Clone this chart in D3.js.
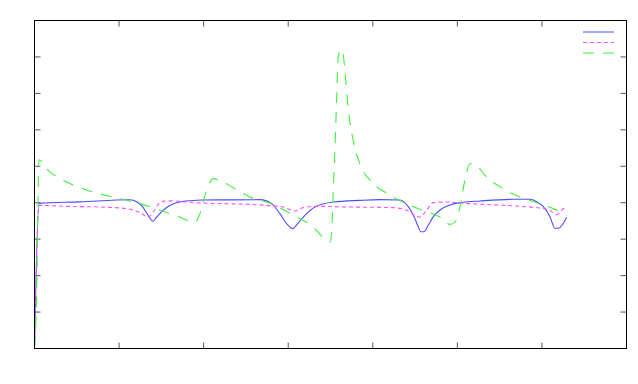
<!DOCTYPE html>
<html lang="en">
<head>
    <meta charset="UTF-8">
    <title>Three series</title>
    <script src="https://d3js.org/d3.v7.min.js"></script>
    <style>
        body { margin: 0; background: #fff; }
        .line { fill: none; }
    </style>
</head>
<body>
    <svg width="638" height="384"></svg>
    <script>
        // Data (x: 0..7, y: -4..5)
        const xTicks = [1, 2, 3, 4, 5, 6];
        const yTicks = [-3, -2, -1, 0, 1, 2, 3, 4];

        const blueX = [0, 0.053, 0.538, 1.129, 1.212, 1.271, 1.318, 1.366, 1.398, 1.437, 1.484, 1.567, 1.638, 1.72, 1.839, 1.992, 2.311, 2.665, 2.804, 2.902, 2.988, 3.052, 3.118, 3.197, 3.316, 3.532, 3.847, 4.084, 4.322, 4.42, 4.479, 4.538, 4.567, 4.606, 4.657, 4.716, 4.795, 4.913, 5.07, 5.268, 5.662, 5.859, 5.938, 6.016, 6.095, 6.154, 6.194, 6.293];
        const blueY = [-3.96, -0.017, 0.024, 0.083, 0.02, -0.089, -0.254, -0.427, -0.509, -0.419, -0.29, -0.125, -0.035, 0.02, 0.056, 0.075, 0.079, 0.084, -0.025, -0.299, -0.593, -0.711, -0.557, -0.346, -0.118, 0.019, 0.065, 0.084, 0.075, -0.109, -0.337, -0.658, -0.795, -0.795, -0.611, -0.383, -0.199, -0.062, 0.012, 0.048, 0.094, 0.094, 0.028, -0.109, -0.383, -0.701, -0.701, -0.4];

        const magentaX = [0, 0.053, 0.381, 0.774, 1.09, 1.247, 1.345, 1.404, 1.463, 1.519, 1.625, 1.799, 1.995, 2.346, 2.745, 2.941, 3.079, 3.177, 3.336, 3.729, 4.241, 4.4, 4.557, 4.636, 4.714, 4.872, 5.148, 5.739, 5.975, 6.093, 6.172, 6.232, 6.291];
        const magentaY = [-3.937, -0.072, -0.099, -0.118, -0.162, -0.269, -0.393, -0.255, -0.044, 0.038, 0.052, 0.019, -0.009, -0.031, -0.072, -0.118, -0.228, -0.135, -0.099, -0.118, -0.135, -0.209, -0.393, -0.209, 0.002, 0.019, -0.025, -0.099, -0.146, -0.209, -0.327, -0.209, -0.099];

        const greenX = [0, 0.024, 0.053, 0.163, 0.381, 0.656, 1.011, 1.247, 1.522, 1.72, 1.897, 1.956, 2.035, 2.113, 2.173, 2.35, 2.547, 2.745, 2.941, 3.138, 3.296, 3.414, 3.493, 3.513, 3.532, 3.552, 3.572, 3.591, 3.623, 3.647, 3.67, 3.709, 3.768, 3.847, 3.986, 4.163, 4.4, 4.557, 4.793, 4.911, 4.97, 5.03, 5.089, 5.148, 5.207, 5.345, 5.541, 5.739, 5.975, 6.132, 6.291];
        const greenY = [-3.96, -2.676, 1.181, 0.888, 0.567, 0.32, 0.112, -0.025, -0.236, -0.401, -0.53, -0.299, 0.339, 0.66, 0.633, 0.413, 0.156, 0.019, -0.19, -0.436, -0.667, -0.957, -1.078, -0.848, 0.339, 1.436, 2.806, 3.993, 4.205, 4.122, 3.629, 2.587, 1.71, 1.071, 0.567, 0.265, -0.025, -0.181, -0.393, -0.593, -0.538, -0.118, 0.613, 1.071, 1.052, 0.704, 0.386, 0.156, -0.025, -0.162, -0.346];

        const seriesList = [
            { x: blueX, y: blueY, color: "#4d4dff", dash: null },
            { x: magentaX, y: magentaY, color: "#ff4dff", dash: "4,3" },
            { x: greenX, y: greenY, color: "#40f040", dash: "11,9" }
        ];

        const plotLeft = 34.5, plotRight = 626.5, plotTop = 20.5, plotBottom = 348.5;

        const svg = d3.select("svg");

        const x = d3.scaleLinear().domain([0, 7]).range([plotLeft, plotRight]);
        const y = d3.scaleLinear().domain([-4, 5]).range([plotBottom, plotTop]);

        // ticks on all four sides, pointing inward
        const tickLen = 6;
        const tickG = svg.append("g").attr("stroke", "#555").attr("stroke-width", 1);
        xTicks.forEach(t => {
            tickG.append("line").attr("x1", x(t)).attr("x2", x(t)).attr("y1", plotBottom).attr("y2", plotBottom - tickLen);
            tickG.append("line").attr("x1", x(t)).attr("x2", x(t)).attr("y1", plotTop).attr("y2", plotTop + tickLen);
        });
        yTicks.forEach(t => {
            tickG.append("line").attr("x1", plotLeft).attr("x2", plotLeft + tickLen).attr("y1", y(t)).attr("y2", y(t));
            tickG.append("line").attr("x1", plotRight).attr("x2", plotRight - tickLen).attr("y1", y(t)).attr("y2", y(t));
        });

        // lines
        const line = d3.line()
            .curve(d3.curveMonotoneX)
            .x(d => x(d[0]))
            .y(d => y(d[1]));

        seriesList.forEach(s => {
            const pts = s.x.map((v, i) => [v, s.y[i]]);
            svg.append("path")
                .datum(pts)
                .attr("class", "line")
                .attr("stroke", s.color)
                .attr("stroke-width", 1.1)
                .attr("stroke-dasharray", s.dash)
                .attr("d", line);
        });

        // border
        svg.append("rect")
            .attr("x", plotLeft).attr("y", plotTop)
            .attr("width", plotRight - plotLeft).attr("height", plotBottom - plotTop)
            .attr("fill", "none")
            .attr("stroke", "#000")
            .attr("stroke-width", 1);

        // legend (samples only, no labels)
        seriesList.forEach((s, i) => {
            svg.append("line")
                .attr("x1", 583).attr("x2", 614)
                .attr("y1", 32 + i * 10.5).attr("y2", 32 + i * 10.5)
                .attr("stroke", s.color)
                .attr("stroke-width", 1)
                .attr("stroke-dasharray", s.dash);
        });
    </script>
</body>
</html>
